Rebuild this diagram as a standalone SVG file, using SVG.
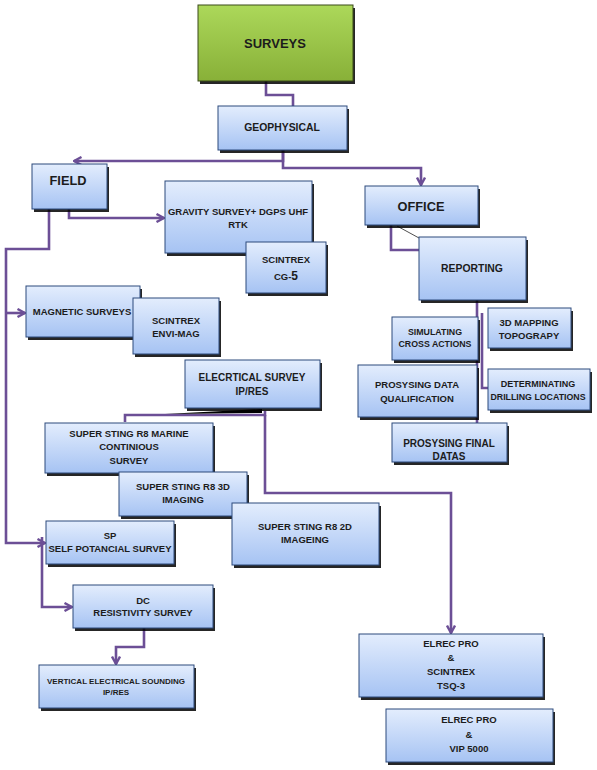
<svg xmlns="http://www.w3.org/2000/svg" width="597" height="770" viewBox="0 0 597 770">
<defs>
<linearGradient id="gb" x1="0" y1="0" x2="0" y2="1"><stop offset="0" stop-color="#e3edfd"/><stop offset="1" stop-color="#a6c3f3"/></linearGradient>
<linearGradient id="gg" x1="0" y1="0" x2="0" y2="1"><stop offset="0" stop-color="#acd85a"/><stop offset="1" stop-color="#88b038"/></linearGradient>
<marker id="arr" viewBox="0 0 10 10" refX="9" refY="5" markerWidth="10" markerHeight="10" markerUnits="userSpaceOnUse" orient="auto"><path d="M1.5,1 L9,5 L1.5,9" fill="none" stroke="#6c4f96" stroke-width="2.4"/></marker>
<style>
.b{fill:url(#gb);stroke:#2c4a7c;stroke-width:1}
.g{fill:url(#gg);stroke:#3a4a1a;stroke-width:1}
.s{fill:#000;opacity:0.85}
.t{font-family:"Liberation Sans",Arial,sans-serif;font-weight:bold;font-size:9.5px;fill:#1c1c1c;text-anchor:middle}
.c{fill:none;stroke:#6c4f96;stroke-width:2.6;stroke-linejoin:miter}
</style>
</defs>
<g id="connectors">
<path class="c" d="M266 81 V95 H293 V106"/>
<path class="c" d="M283 150 V161 H74" marker-end="url(#arr)"/>
<path class="c" d="M283 150 V168 H421 V185" marker-end="url(#arr)"/>
<path class="c" d="M69 209 V218 H164" marker-end="url(#arr)"/>
<path class="c" d="M49 209 V249 H6 V543 H45" marker-end="url(#arr)"/>
<path class="c" d="M6 313 H25" marker-end="url(#arr)"/>
<path class="c" d="M42 537 V607 H72" marker-end="url(#arr)"/>
<path class="c" d="M144 628 V647 H116 V664" marker-end="url(#arr)"/>
<path class="c" d="M265 411 V415 H125 V422"/>
<path class="c" d="M265 415 V493 H451 V633" marker-end="url(#arr)"/>
<polygon points="165,414 262,409 262,413" fill="#000"/>
<path class="c" d="M391 225 V250 H419"/>
<line x1="397" y1="226" x2="419" y2="238" stroke="#222" stroke-width="0.8"/>
<path class="c" d="M477 300 V423"/>
<path class="c" d="M482 313 V388 H488"/>
</g>
<g id="surveys"><rect class="s" x="200" y="8" width="155" height="76"/><rect class="g" x="198" y="5" width="155" height="76"/><text class="t" x="275" y="48" style="font-size:13px">SURVEYS</text></g>
<g id="geophysical"><rect class="s" x="220" y="109" width="129" height="44"/><rect class="b" x="218" y="106" width="129" height="44"/><text class="t" x="282" y="131" style="font-size:10.4px">GEOPHYSICAL</text></g>
<g id="field"><rect class="s" x="34" y="167" width="75" height="45"/><rect class="b" x="32" y="164" width="75" height="45"/><text class="t" x="68" y="185" style="font-size:12.8px">FIELD</text></g>
<g id="office"><rect class="s" x="367" y="189" width="113" height="39"/><rect class="b" x="365" y="186" width="113" height="39"/><text class="t" x="421" y="211" style="font-size:12.8px">OFFICE</text></g>
<g id="gravity"><rect class="s" x="167" y="184" width="147" height="72"/><rect class="b" x="165" y="181" width="147" height="72"/><text class="t" x="238" y="215">GRAVITY SURVEY+ DGPS UHF</text><text class="t" x="238" y="228">RTK</text></g>
<g id="cg5"><rect class="s" x="248" y="245" width="80" height="51"/><rect class="b" x="246" y="242" width="80" height="51"/><text class="t" x="286" y="263">SCINTREX</text><text class="t" x="286" y="280">CG-<tspan style="font-size:12px">5</tspan></text></g>
<g id="reporting"><rect class="s" x="421" y="240" width="107" height="63"/><rect class="b" x="419" y="237" width="107" height="63"/><text class="t" x="472" y="272" style="font-size:10.4px">REPORTING</text></g>
<g id="magnetic"><rect class="s" x="28" y="289" width="114" height="51"/><rect class="b" x="26" y="286" width="114" height="51"/><text class="t" x="82" y="315">MAGNETIC SURVEYS</text></g>
<g id="envimag"><rect class="s" x="135" y="301" width="86" height="56"/><rect class="b" x="133" y="298" width="86" height="56"/><text class="t" x="176" y="324">SCINTREX</text><text class="t" x="176" y="337">ENVI-MAG</text></g>
<g id="simulating"><rect class="s" x="394" y="320" width="86" height="43"/><rect class="b" x="392" y="317" width="86" height="43"/><text class="t" x="435" y="335" style="font-size:8.8px">SIMULATING</text><text class="t" x="435" y="347" style="font-size:8.8px">CROSS ACTIONS</text></g>
<g id="mapping"><rect class="s" x="490" y="311" width="83" height="40"/><rect class="b" x="488" y="308" width="83" height="40"/><text class="t" x="529" y="326">3D MAPPING</text><text class="t" x="529" y="339">TOPOGRAPY</text></g>
<g id="prosysingdata"><rect class="s" x="360" y="368" width="119" height="52"/><rect class="b" x="358" y="365" width="119" height="52"/><text class="t" x="417" y="388">PROSYSING DATA</text><text class="t" x="417" y="402">QUALIFICATION</text></g>
<g id="determinating"><rect class="s" x="490" y="372" width="102" height="41"/><rect class="b" x="488" y="369" width="102" height="41"/><text class="t" x="538" y="387" style="font-size:9px">DETERMINATING</text><text class="t" x="538" y="400" style="font-size:8.8px">DRILLING LOCATIONS</text></g>
<g id="final"><rect class="s" x="394" y="426" width="115" height="39"/><rect class="b" x="392" y="423" width="115" height="39"/><text class="t" x="449" y="447" style="font-size:10px">PROSYSING FINAL</text><text class="t" x="449" y="460" style="font-size:10px">DATAS</text></g>
<g id="electrical"><rect class="s" x="187" y="363" width="135" height="48"/><rect class="b" x="185" y="360" width="135" height="48"/><text class="t" x="252" y="381" style="font-size:10px">ELECRTICAL SURVEY</text><text class="t" x="252" y="395" style="font-size:10px">IP/RES</text></g>
<g id="marine"><rect class="s" x="47" y="426" width="168" height="50"/><rect class="b" x="45" y="423" width="168" height="50"/><text class="t" x="129" y="437">SUPER STING R8 MARINE</text><text class="t" x="129" y="450">CONTINIOUS</text><text class="t" x="129" y="464">SURVEY</text></g>
<g id="imaging3d"><rect class="s" x="121" y="475" width="128" height="44"/><rect class="b" x="119" y="472" width="128" height="44"/><text class="t" x="183" y="490">SUPER STING R8 3D</text><text class="t" x="183" y="503">IMAGING</text></g>
<g id="imaging2d"><rect class="s" x="234" y="506" width="147" height="62"/><rect class="b" x="232" y="503" width="147" height="62"/><text class="t" x="305" y="530">SUPER STING R8 2D</text><text class="t" x="305" y="543">IMAGEING</text></g>
<g id="sp"><rect class="s" x="48" y="524" width="128" height="43"/><rect class="b" x="46" y="521" width="128" height="43"/><text class="t" x="110" y="539">SP</text><text class="t" x="110" y="552">SELF POTANCIAL SURVEY</text></g>
<g id="dc"><rect class="s" x="75" y="588" width="140" height="43"/><rect class="b" x="73" y="585" width="140" height="43"/><text class="t" x="143" y="604">DC</text><text class="t" x="143" y="616">RESISTIVITY SURVEY</text></g>
<g id="ves"><rect class="s" x="41" y="668" width="155" height="43"/><rect class="b" x="39" y="665" width="155" height="43"/><text class="t" x="116" y="684" style="font-size:8px">VERTICAL ELECTRICAL SOUNDING</text><text class="t" x="116" y="695" style="font-size:8px">IP/RES</text></g>
<g id="tsq3"><rect class="s" x="361" y="637" width="184" height="63"/><rect class="b" x="359" y="634" width="184" height="63"/><text class="t" x="451" y="647">ELREC PRO</text><text class="t" x="451" y="661">&amp;</text><text class="t" x="451" y="675">SCINTREX</text><text class="t" x="451" y="689">TSQ-3</text></g>
<g id="vip5000"><rect class="s" x="388" y="712" width="167" height="53"/><rect class="b" x="386" y="709" width="167" height="53"/><text class="t" x="469" y="723">ELREC PRO</text><text class="t" x="469" y="738">&amp;</text><text class="t" x="469" y="752">VIP 5000</text></g>
</svg>
